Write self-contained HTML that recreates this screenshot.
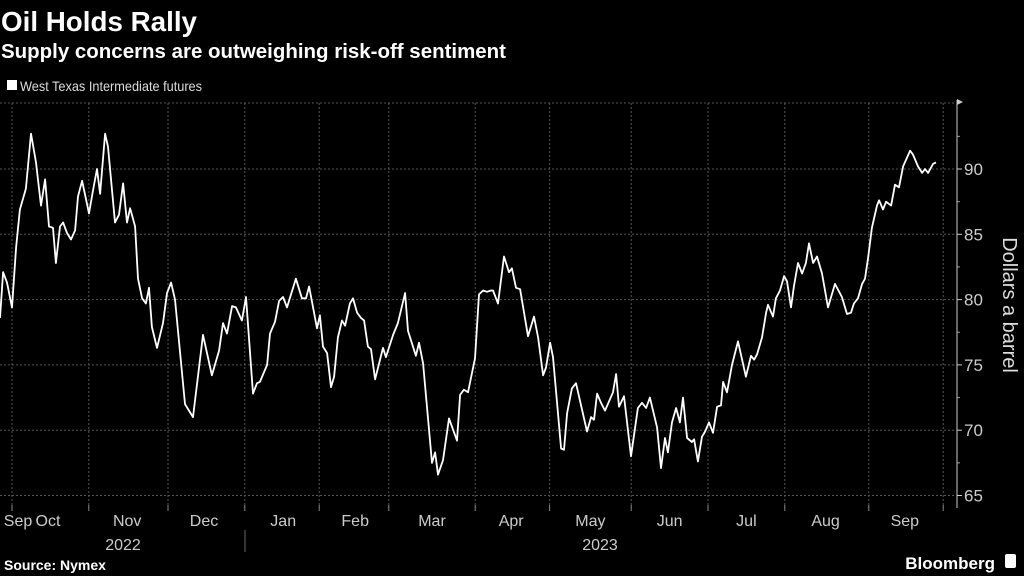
<!DOCTYPE html>
<html><head><meta charset="utf-8"><style>
html,body{margin:0;padding:0;background:#000;}
svg{display:block;font-family:"Liberation Sans",sans-serif;}
</style></head><body>
<svg id="chart" width="1024" height="576" viewBox="0 0 1024 576">
<rect width="1024" height="576" fill="#000"/>
<text x="1" y="31" fill="#fff" font-size="28" font-weight="bold" textLength="196" lengthAdjust="spacingAndGlyphs">Oil Holds Rally</text>
<text x="1" y="58" fill="#fff" font-size="20" font-weight="bold" textLength="505" lengthAdjust="spacingAndGlyphs">Supply concerns are outweighing risk-off sentiment</text>
<rect x="7" y="80" width="10" height="10" fill="#fff"/>
<text x="20" y="91" fill="#ddd" font-size="14" textLength="182" lengthAdjust="spacingAndGlyphs">West Texas Intermediate futures</text>
<g id="grid"></g>
<g id="axes"></g>
<path id="line" fill="none" stroke="#fff" stroke-width="1.8" stroke-linejoin="round"/>
<text transform="translate(1003,305) rotate(90)" text-anchor="middle" fill="#ddd" font-size="20">Dollars a barrel</text>
<text x="123" y="550" text-anchor="middle" fill="#ccc" font-size="16">2022</text>
<line x1="245" y1="530" x2="245" y2="552" stroke="#666" stroke-width="1"/>
<text x="600" y="550" text-anchor="middle" fill="#ccc" font-size="16">2023</text>
<text x="4" y="570" fill="#fff" font-size="14" font-weight="bold">Source: Nymex</text>
<text x="995" y="569" text-anchor="end" fill="#fff" font-size="17" font-weight="bold">Bloomberg</text>
<rect x="1005" y="554" width="11" height="14" rx="2" fill="#fff"/>
</svg>
<script>
const days = [0,1.3,2.9,5,6.7,8.3,10.8,12.9,15,17.1,18.8,20.4,22.1,23.3,25,26.3,27.9,29.6,31.3,32.5,34.2,37.1,38.8,40.4,41.7,43.8,45,47.9,49.6,51.3,52.9,54.2,56.3,57.5,59.2,60.8,62.1,63.3,65.4,67.9,69.6,71.3,72.9,77.1,80.4,84.6,88.3,91.3,92.9,94.6,96.7,98.3,100.8,102.5,105.4,107.1,108.3,111.3,112.5,114.6,116.3,117.9,119.6,123.3,125.8,127.5,128.8,132.1,133.3,134.6,136.3,137.9,139.2,140.8,142.5,143.8,145.8,147.1,148.8,150.4,151.7,153.3,154.6,156.3,159.6,160.8,163.8,165.8,168.8,170,173.3,174.6,176.3,180,181.3,182.5,184.6,187.1,190.4,191.7,193.3,195,197.9,199.6,201.3,202.9,204.6,205.4,207.5,210,212.1,213.3,215,216.7,220,222.5,224.2,226.3,227.5,229.2,230.4,233.8,235,236.3,238.3,240,244.6,246.3,247.5,248.8,250.4,252.1,255.4,256.7,257.9,260,262.9,265.8,267.5,269.2,270.8,273.8,275.4,277.1,278.3,280,281.7,283.3,284.6,286.3,288.3,289.2,290.8,292.5,293.8,295.4,297.1,298.8,300.4,301.3,302.9,305,307.5,310.8,312.9,314.2,315.4,317.5,319.2,320,322.1,323.3,325,326.7,327.9,329.6,330.8,332.5,334.2,335.8,337.1,338.8,340.4,342.5,345,347.9,350.8,352.9,354.6,355.8,357.5,359.2,360.4,361.7,363.3,365.4,366.3,367.9,369.2,371.3,372.9,374.6,376.3,379.2,380.4,382.5,384.2,385.4,386.7,388.8,390];
const prices = [78.6,82.1,81.3,79.4,84,86.9,88.5,92.7,90.5,87.2,89.2,85.6,85.5,82.8,85.6,85.9,85.1,84.6,85.3,87.9,89.1,86.6,88.4,90,88.1,92.7,91.7,85.9,86.5,88.9,85.9,87,85.6,81.6,80.1,79.7,80.9,77.9,76.3,78.2,80.5,81.3,80,72,71,77.3,74.2,76.1,78.2,77.4,79.5,79.4,78.4,80.2,72.8,73.6,73.7,75,77.4,78.3,79.9,80.2,79.4,81.6,80.1,80.1,81,77.8,78.8,76.4,75.9,73.3,74.1,77.1,78.4,78,79.7,80.1,79,78.6,78.4,76.4,76.2,73.9,76.3,75.6,77.3,78.2,80.5,77.6,75.7,76.7,75.1,67.5,68.3,66.6,67.7,70.9,69.2,72.7,73.1,72.9,75.5,80.4,80.7,80.6,80.7,80.7,79.7,83.3,82.1,82.4,80.9,80.8,77.2,78.7,77.1,74.2,74.8,76.7,75.6,68.6,68.5,71.3,73.2,73.6,69.9,71,70.8,72.8,72.1,71.5,72.9,74.3,71.8,72.6,68,71.7,72.1,71.7,72.5,70.2,67.1,69.4,68.3,70.6,71.7,70.6,72.5,69.4,69.1,69.3,67.6,69.5,69.9,70.6,69.8,71.8,71.9,73.7,72.9,75,76.8,74.1,75.7,75.4,75.8,77.1,79,79.6,78.7,80.1,80.7,81.8,81.4,79.4,81,82.8,82,82.8,84.3,82.8,83.3,82,79.4,81.2,80.2,78.9,79,79.7,80.1,81.2,81.6,83.2,85.5,87.2,87.6,86.9,87.5,87.2,88.8,88.6,90.2,91.4,91.1,90.2,89.7,90,89.7,90.4,90.5];
const yTicks = [65,70,75,80,85,90];
const monthLabels = ["Sep","Oct","Nov","Dec","Jan","Feb","Mar","Apr","May","Jun","Jul","Aug","Sep"];
const monthLabelDays = [7.5,20,53,85,118,148,180,213,246,279,311,344,377];
const gridDays = [5,37,70,102,133,162,198,229,263,295,327,362,393];

const xS = d => d * 2.4;
const yS = v => 169 + (90 - v) * 13.06;
const NS = "http://www.w3.org/2000/svg";
const grid = document.getElementById('grid');
const axes = document.getElementById('axes');
function mk(tag, attrs, parent){const e=document.createElementNS(NS,tag);for(const k in attrs)e.setAttribute(k,attrs[k]);parent.appendChild(e);return e;}

const tl = mk('line',{x1:0,x2:955,y1:103,y2:103,stroke:'#555','stroke-dasharray':'2,2'},grid);


yTicks.forEach(v=>{
  const y=yS(v);
  const g=mk('line',{x1:0,x2:955,y1:y,y2:y,stroke:'#555','stroke-dasharray':'2,2'},grid);
  
  
  mk('line',{x1:957,x2:962,y1:y,y2:y,stroke:'#ccc'},axes);
  const t=mk('text',{x:964,y:y+6,fill:'#ccc','font-size':17},axes);
  t.textContent=v;
  
  
});
[67.5,72.5,77.5,82.5,87.5,92.5].forEach(v=>{mk('line',{x1:957,x2:960,y1:yS(v),y2:yS(v),stroke:'#999'},axes);});
gridDays.forEach(d=>{
  const x=xS(d);
  const g=mk('line',{x1:x,x2:x,y1:103,y2:508,stroke:'#555','stroke-dasharray':'2,2'},grid);
  
  
  mk('line',{x1:x,x2:x,y1:505,y2:511,stroke:'#888'},axes);
});
const ax=mk('line',{x1:957,x2:957,y1:100,y2:508,stroke:'#ccc'},axes);


mk('path',{d:'M957,99 L963,102 L957,105 Z',fill:'#ccc'},axes);
monthLabels.forEach((m,i)=>{
  const t=mk('text',{x:xS(monthLabelDays[i]),y:526,'text-anchor':'middle',fill:'#ccc','font-size':16},axes);
  t.textContent=m;
  
  
});
document.getElementById('line').setAttribute('d', days.map((d,i)=>(i?'L':'M')+xS(d).toFixed(1)+','+yS(prices[i]).toFixed(1)).join(' '));
</script>
</body></html>
